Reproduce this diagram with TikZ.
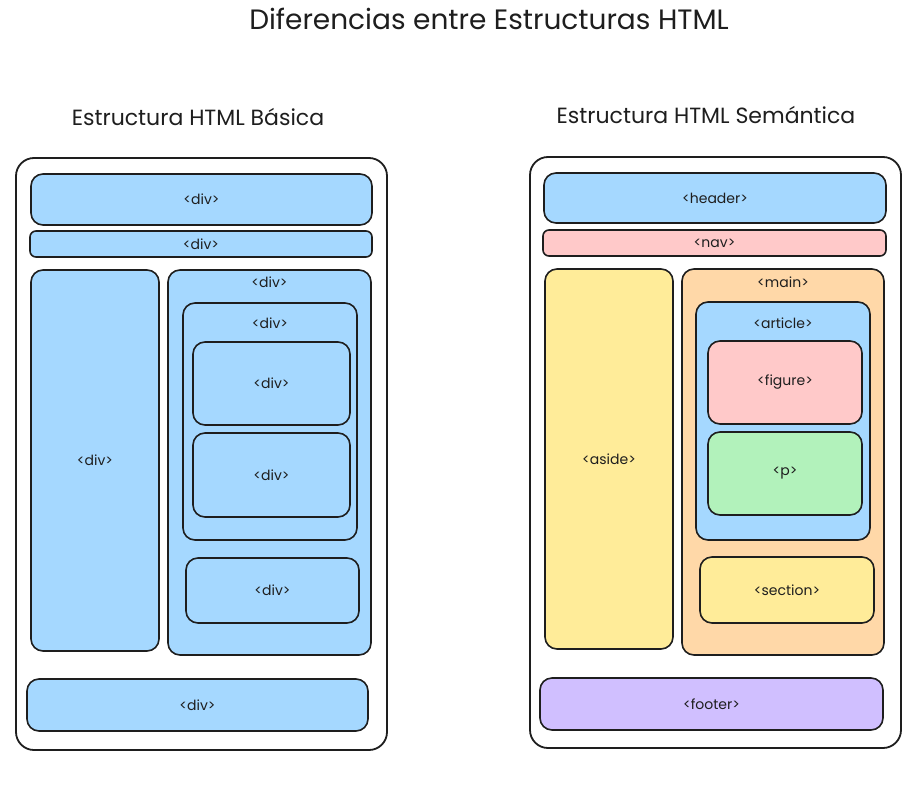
\documentclass[tikz,border=0pt]{standalone}
\usepackage{fontspec}
\setmainfont{Poppins}
\usepackage{tikz}
\usetikzlibrary{positioning}

\definecolor{tagblue}{HTML}{A5D8FF}
\definecolor{tagpink}{HTML}{FFC9C9}
\definecolor{tagyellow}{HTML}{FFEC99}
\definecolor{tagorange}{HTML}{FFD8A8}
\definecolor{taggreen}{HTML}{B2F2BB}
\definecolor{tagviolet}{HTML}{D0BFFF}
\definecolor{ink}{HTML}{1E1E1E}

\tikzset{
	frame/.style = {draw = ink, line width = 1.8pt, rounded corners = 18pt, fill = white},
	block/.style = {draw = ink, line width = 1.6pt, rounded corners = 12pt, inner sep = 0pt, text = ink, font = \fontsize{14}{16}\selectfont},
	bar/.style = {block, rounded corners = 6pt},
	tag/.style = {text = ink, inner sep = 0pt, font = \fontsize{14}{16}\selectfont},
	heading/.style = {text = ink, font = \fontsize{22}{26}\selectfont},
}

\begin{document}
\begin{tikzpicture}[x = 1pt, y = -1pt]
	\useasboundingbox [fill = white] (0,0) rectangle (923,795);

	% titulos
	\begin{scope}
		\node [text = ink, font = \fontsize{28}{32}\selectfont] (title) at (489,19) {Diferencias entre Estructuras HTML};
		\node [heading] (titleL) at (198,117) {Estructura HTML Básica};
		\node [heading] (titleR) at (706,115) {Estructura HTML Semántica};
	\end{scope}

	% estructura basica
	\begin{scope}
		\node [frame, minimum width = 371pt, minimum height = 592pt] (pageL) at (201.5,454) {};
		\node [block, fill = tagblue, minimum width = 341pt, minimum height = 51pt] (divTop) at (201.5,199.5) {<div>};
		\node [bar, fill = tagblue, minimum width = 342pt, minimum height = 26pt] (divBar) at (201,244) {<div>};
		\node [block, fill = tagblue, minimum width = 128pt, minimum height = 381pt] (divSide) at (95,460.5) {<div>};
		\node [block, fill = tagblue, minimum width = 203pt, minimum height = 385pt] (divMain) at (269.5,462.5) {};
		\node [tag] (divMainTag) at ([yshift = -13pt]divMain.north) {<div>};
		\node [block, fill = tagblue, minimum width = 174pt, minimum height = 237pt] (divInner) at (270,421.5) {};
		\node [tag] (divInnerTag) at ([yshift = -21pt]divInner.north) {<div>};
		\node [block, fill = tagblue, minimum width = 157pt, minimum height = 83pt] (divA) at (271.5,383.5) {<div>};
		\node [block, fill = tagblue, minimum width = 157pt, minimum height = 84pt] (divB) at (271.5,475) {<div>};
		\node [block, fill = tagblue, minimum width = 173pt, minimum height = 65pt] (divC) at (272.5,590.5) {<div>};
		\node [block, fill = tagblue, minimum width = 341pt, minimum height = 52pt] (divFoot) at (197.5,705) {<div>};
	\end{scope}

	% estructura semantica
	\begin{scope}
		\node [frame, minimum width = 371pt, minimum height = 591pt] (pageR) at (715.5,452.5) {};
		\node [block, fill = tagblue, minimum width = 342pt, minimum height = 50pt] (header) at (715,198) {<header>};
		\node [bar, fill = tagpink, minimum width = 343pt, minimum height = 26pt] (nav) at (714.5,243) {<nav>};
		\node [block, fill = tagyellow, minimum width = 128pt, minimum height = 380pt] (aside) at (609,459) {<aside>};
		\node [block, fill = tagorange, minimum width = 202pt, minimum height = 386pt] (main) at (783,462) {};
		\node [tag] (mainTag) at ([yshift = -14pt]main.north) {<main>};
		\node [block, fill = tagblue, minimum width = 174pt, minimum height = 238pt] (article) at (783,421) {};
		\node [tag] (articleTag) at ([yshift = -22pt]article.north) {<article>};
		\node [block, fill = tagpink, minimum width = 154pt, minimum height = 83pt] (figure) at (785,382.5) {<figure>};
		\node [block, fill = taggreen, minimum width = 154pt, minimum height = 83pt] (para) at (785,473.5) {<p>};
		\node [block, fill = tagyellow, minimum width = 174pt, minimum height = 66pt] (section) at (787,590) {<section>};
		\node [block, fill = tagviolet, minimum width = 343pt, minimum height = 52pt] (footer) at (711.5,704) {<footer>};
	\end{scope}
\end{tikzpicture}
\end{document}
